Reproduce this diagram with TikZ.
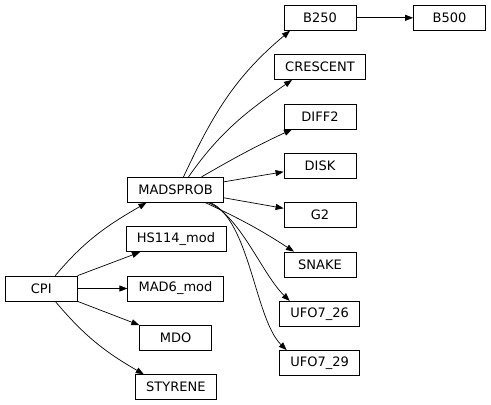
\documentclass[tikz,border=0pt]{standalone}
\usepackage{fontspec}
\setmainfont{DejaVu Sans}
\usetikzlibrary{arrows.meta}

\begin{document}
\begin{tikzpicture}[x=1pt,y=1pt,
    box/.style={draw,line width=0.8pt,font=\fontsize{13}{15}\selectfont,
      minimum width=72pt,minimum height=25pt,inner xsep=10.8pt,inner ysep=0pt},
    link/.style={-{Triangle[length=8pt,width=6pt]},line width=0.7pt}]
  \useasboundingbox (0,0) rectangle (491,-405);
      \draw
        (41.3,-288.5) node[box] (cpi){CPI}
        (175.5,-189.8) node[box] (madsprob){MADSPROB}
        (176,-239.2) node[box] (hs114){HS114\_mod}
        (175.5,-288.5) node[box] (mad6){MAD6\_mod}
        (175.7,-338) node[box] (mdo){MDO}
        (175.8,-387.2) node[box] (styrene){STYRENE}
        (320,-17.8) node[box] (b250){B250}
        (449.5,-17.8) node[box] (b500){B500}
        (320,-67) node[box] (crescent){CRESCENT}
        (320,-116.5) node[box] (diff2){DIFF2}
        (320,-165.8) node[box] (disk){DISK}
        (320,-215) node[box] (g2){G2}
        (320,-264.5) node[box] (snake){SNAKE}
        (319.7,-313.8) node[box] (ufo26){UFO7\_26}
        (319.7,-363) node[box] (ufo29){UFO7\_29};
      \begin{scope}[link]
        \draw ([xshift=14pt]cpi.north) to[out=50,in=210] ([xshift=-29pt]madsprob.south);
        \draw (cpi.north east) -- ([xshift=-36pt]hs114.south);
        \draw (cpi) -- (mad6);
        \draw (cpi.south east) -- (mdo.north west);
        \draw ([xshift=14pt]cpi.south) to[out=-50,in=150] ([xshift=-32pt]styrene.north);
        \draw ([xshift=8pt]madsprob.north) to[out=65,in=220] ([xshift=-30pt]b250.south);
        \draw ([xshift=13pt]madsprob.north) to[out=55,in=215] ([xshift=-28pt]crescent.south);
        \draw ([xshift=26pt]madsprob.north) to[out=30,in=205] ([xshift=-28pt]diff2.south);
        \draw ([yshift=8pt]madsprob.east) -- ([yshift=-6pt]disk.west);
        \draw ([yshift=-8pt]madsprob.east) -- ([yshift=6.7pt]g2.west);
        \draw ([xshift=30pt]madsprob.south) to[out=-25,in=147] ([xshift=-26pt]snake.north);
        \draw ([xshift=33pt]madsprob.south) to[out=-22,in=136,out distance=34pt,in distance=38pt] ([xshift=-30pt]ufo26.north);
        \draw ([xshift=35pt]madsprob.south) to[out=-24,in=136,out distance=43pt,in distance=44pt] ([xshift=-33pt]ufo29.north);
        \draw (b250) -- (b500);
      \end{scope}
    \end{tikzpicture}
\end{document}
